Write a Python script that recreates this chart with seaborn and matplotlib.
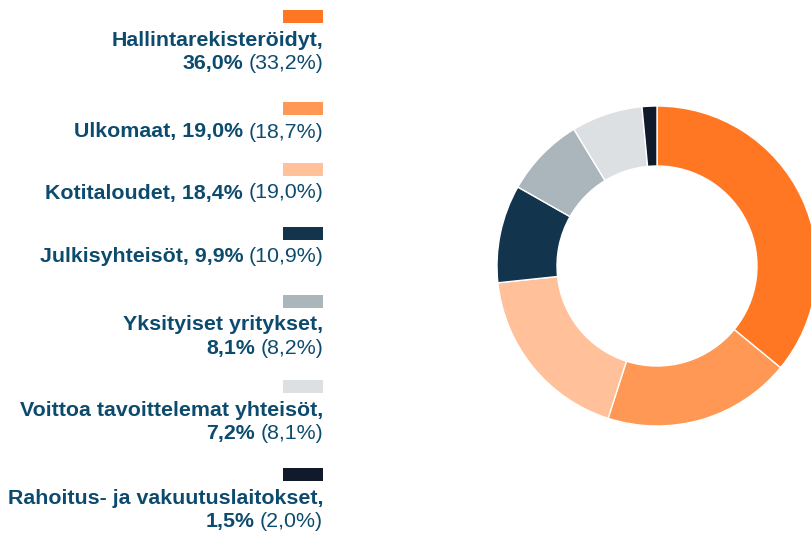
import matplotlib
matplotlib.use("Agg")
import matplotlib.pyplot as plt
import seaborn as sns
from matplotlib.patches import Rectangle

sns.set_theme(style="white")
plt.rcParams['font.family'] = ['Liberation Sans', 'DejaVu Sans']

# Data
categories = ["Hallintarekisteröidyt", "Ulkomaat", "Kotitaloudet", "Julkisyhteisöt",
              "Yksityiset yritykset", "Voittoa tavoittelemat yhteisöt",
              "Rahoitus- ja vakuutuslaitokset"]
values = [36.0, 19.0, 18.4, 9.9, 8.1, 7.2, 1.5]
previous = ["33,2%", "18,7%", "19,0%", "10,9%", "8,2%", "8,1%", "2,0%"]
current_labels = ["36,0%", "19,0%", "18,4%", "9,9%", "8,1%", "7,2%", "1,5%"]
colors = ["#FF7722", "#FF9755", "#FFC09A", "#12344D", "#AAB5BC", "#DCE0E3", "#111A2B"]
# whether the name and value are split onto two lines
two_lines = [True, False, False, False, True, True, True]

W, H = 811, 535
fig = plt.figure(figsize=(W / 100, H / 100), dpi=100)
fig.patch.set_facecolor("white")

# Donut
cx, cy, r = 657, 266, 160
pax = fig.add_axes([(cx - r) / W, (H - cy - r) / H, 2 * r / W, 2 * r / H])
pax.pie(values, colors=colors, startangle=90, counterclock=False, radius=1,
        wedgeprops=dict(width=0.375, edgecolor="white", linewidth=1))
pax.set_xlim(-1, 1)
pax.set_ylim(-1, 1)
pax.set_aspect("equal")
pax.axis("off")

# Legend
lax = fig.add_axes([0, 0, 1, 1])
lax.set_xlim(0, W)
lax.set_ylim(H, 0)
lax.axis("off")

txt_color = "#0D4B6E"
fs = 15.4
right = 323
rect_tops = [10, 102, 163, 227, 295, 380, 468]
fig.canvas.draw()
renderer = fig.canvas.get_renderer()
inv = lax.transData.inverted()

for i, cat in enumerate(categories):
    top = rect_tops[i]
    lax.add_patch(Rectangle((283, top), 40, 13, facecolor=colors[i], edgecolor="none"))
    y1 = top + 30
    if two_lines[i]:
        lax.text(right, y1, cat + ",", ha="right", va="center", fontsize=fs,
                 fontweight="bold", color=txt_color)
        y2 = y1 + 23.5
        bold_part = current_labels[i]
    else:
        y2 = y1
        bold_part = cat + ", " + current_labels[i]
    t = lax.text(right, y2, "(" + previous[i] + ")", ha="right", va="center",
                 fontsize=fs, color=txt_color)
    bb = t.get_window_extent(renderer=renderer)
    x_left = inv.transform((bb.x0, bb.y0))[0]
    lax.text(x_left - 5, y2, bold_part, ha="right", va="center", fontsize=fs,
             fontweight="bold", color=txt_color)

fig.savefig("out.png", dpi=100, facecolor="white")
